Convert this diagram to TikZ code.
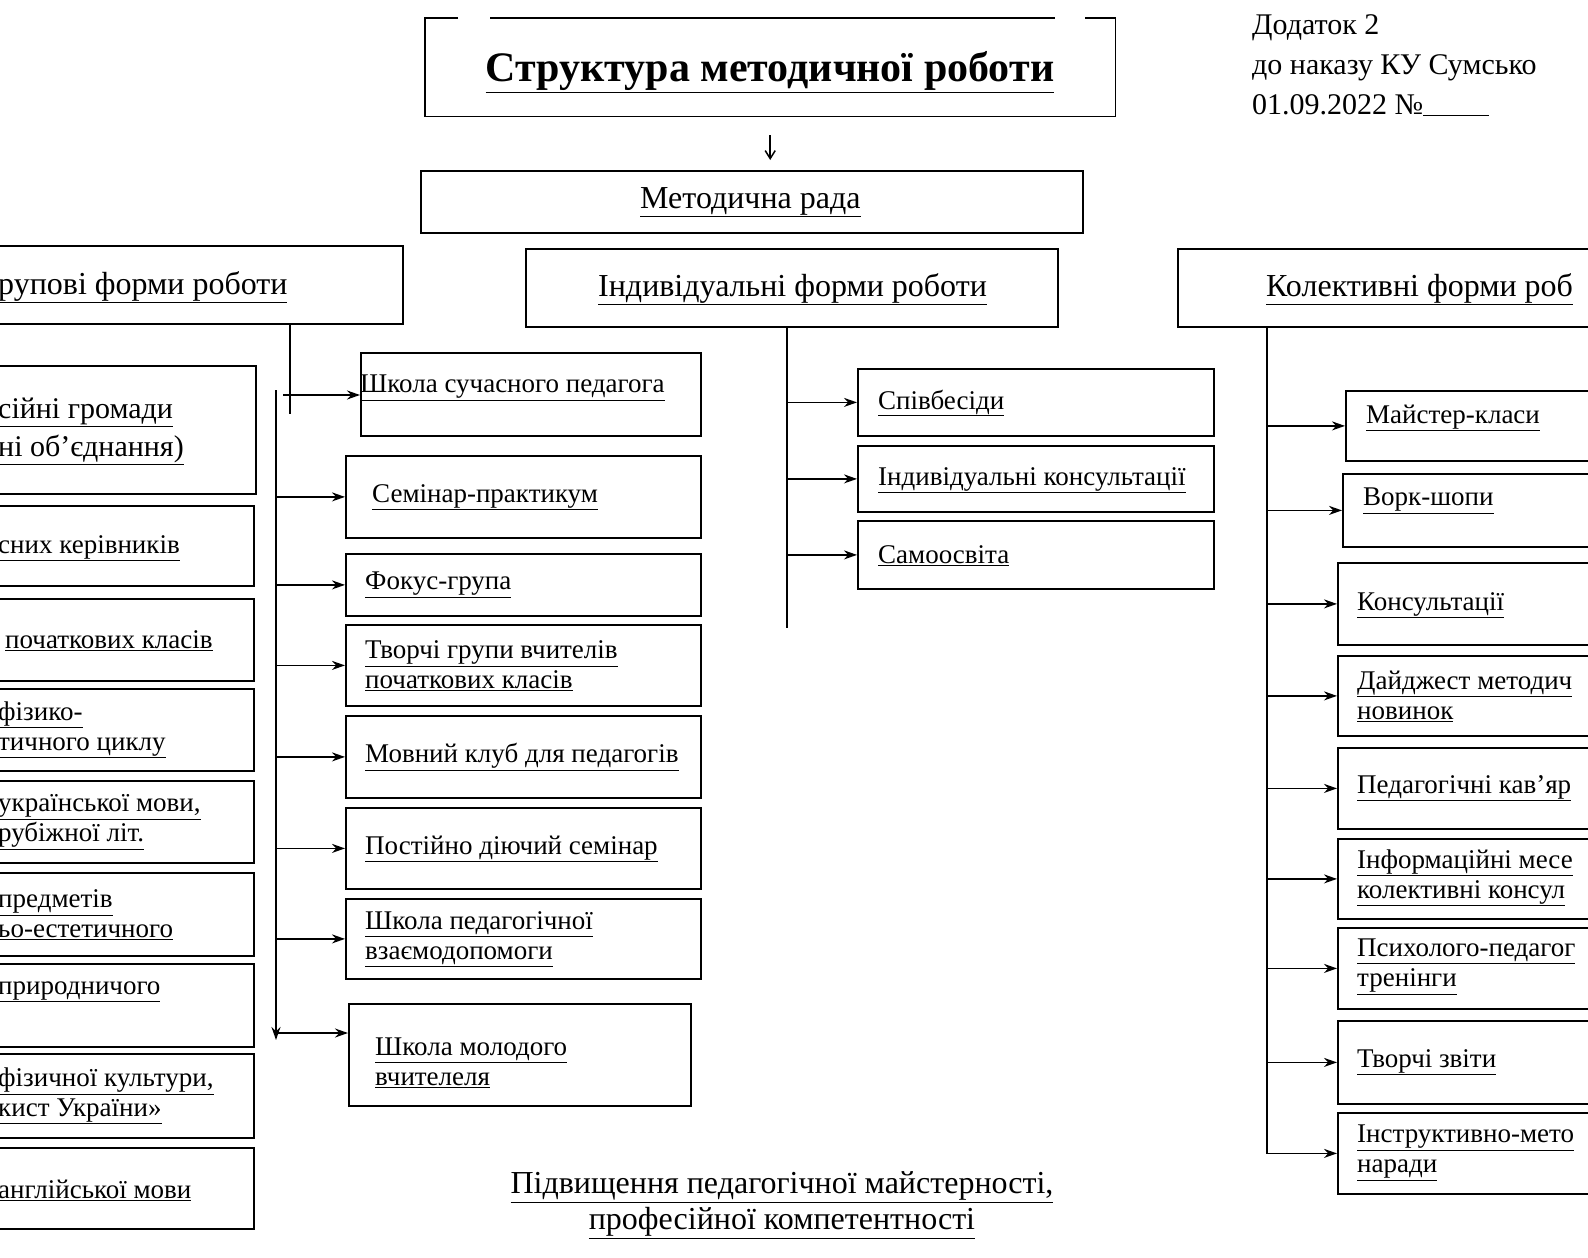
\documentclass[tikz,border=0pt]{standalone}
\usepackage{fontspec}
\setmainfont{Liberation Serif}
\usetikzlibrary{arrows.meta,positioning}

\begin{document}
\begin{tikzpicture}[x=1pt,y=-1pt,
    box/.style={draw,line width=1.8pt,anchor=north west,inner sep=0pt},
    txt/.style={anchor=west,align=left,inner sep=0pt,font=\fontsize{27}{30}\selectfont},
    big/.style={txt,font=\fontsize{32}{38}\selectfont},
    arr/.style={-{Stealth[length=13pt,width=9pt]},line width=1.8pt},
    trunk/.style={line width=1.8pt}]
  \clip (0,0) rectangle (1588,1258);
  \fill[white] (0,0) rectangle (1588,1258);

  % top
  \node[anchor=north west,minimum width=690,minimum height=98,inner sep=0pt] (title) at (425,18) {};
  \draw[trunk] ([xshift=33pt]title.north west) -- (title.north west) -- (title.south west)
    -- (title.south east) -- (title.north east) -- ([xshift=-30pt]title.north east);
  \draw[trunk] ([xshift=65pt]title.north west) -- ([xshift=-60pt]title.north east);
  \node[inner sep=0pt,font=\bfseries\fontsize{42}{50}\selectfont] (titletext) at (770,72) {\underline{Структура методичної роботи}};
  \node[txt,anchor=north west,font=\fontsize{30}{40}\selectfont] (dod) at (1252,14)
    {Додаток 2\\до наказу КУ Сумсько\\01.09.2022 №\underline{\hspace{66pt}}};

  \node[box,minimum width=662,minimum height=62] (rada) at (420,170) {};
  \node[big] (radatext) at (640,202) {\underline{Методична рада}};
  \draw[-{Straight Barb[length=8pt,width=10pt]},line width=1.5pt]
    ([yshift=-19pt]title.south) -- ([yshift=10pt]rada.north -| title.south);

  % three forms
  \node[box,minimum width=422,minimum height=78] (grp) at (-20,245) {};
  \node[big] (grptext) at (-2,287) {\underline{рупові форми роботи}};
  \node[box,minimum width=532,minimum height=78] (ind) at (525,248) {};
  \node[big] (indtext) at (598,289) {\underline{Індивідуальні форми роботи}};
  \node[box,minimum width=450,minimum height=78] (kol) at (1177,248) {};
  \node[big] (koltext) at (1266,289) {\underline{Колективні форми роб}};

  % left column
  \node[box,minimum width=275,minimum height=128] (l1) at (-20,365) {};
  \node[txt,font=\fontsize{30}{38}\selectfont] at (-2,431) {\underline{сійні громади}\\\underline{ні об’єднання)}};
  \node[box,minimum width=273,minimum height=80] (l2) at (-20,505) {};
  \node[txt] at (-2,548) {\underline{сних керівників}};
  \node[box,minimum width=273,minimum height=82] (l3) at (-20,598) {};
  \node[txt] at (5,641) {\underline{початкових класів}};
  \node[box,minimum width=273,minimum height=82] (l4) at (-20,688) {};
  \node[txt] at (-2,730) {\underline{фізико-}\\\underline{тичного циклу}};
  \node[box,minimum width=273,minimum height=82] (l5) at (-20,780) {};
  \node[txt] at (-2,822) {\underline{української мови,}\\\underline{рубіжної літ.}};
  \node[box,minimum width=273,minimum height=83] (l6) at (-20,872) {};
  \node[txt] at (-2,915) {\underline{предметів}\\\underline{ьо-естетичного}};
  \node[box,minimum width=273,minimum height=83] (l7) at (-20,963) {};
  \node[txt] at (-2,992) {\underline{природничого}};
  \node[box,minimum width=273,minimum height=84] (l8) at (-20,1053) {};
  \node[txt] at (-2,1096) {\underline{фізичної культури,}\\\underline{кист України»}};
  \node[box,minimum width=273,minimum height=81] (l9) at (-20,1147) {};
  \node[txt] at (-2,1190) {\underline{англійської мови}};

  % group forms
  \node[box,minimum width=340,minimum height=83] (shk) at (360,352) {};
  \node[txt] at (360,388) {\underline{Школа сучасного педагога}};
  \node[box,minimum width=355,minimum height=82] (sem) at (345,455) {};
  \node[txt] at (372,497) {\underline{Семінар-практикум}};
  \node[box,minimum width=355,minimum height=62] (fok) at (345,553) {};
  \node[txt] at (365,585) {\underline{Фокус-група}};
  \node[box,minimum width=355,minimum height=81] (tvo) at (345,624) {};
  \node[txt] at (365,666) {\underline{Творчі групи вчителів}\\\underline{початкових класів}};
  \node[box,minimum width=355,minimum height=82] (mov) at (345,715) {};
  \node[txt] at (365,757) {\underline{Мовний клуб для педагогів}};
  \node[box,minimum width=355,minimum height=81] (pos) at (345,807) {};
  \node[txt] at (365,849) {\underline{Постійно діючий семінар}};
  \node[box,minimum width=355,minimum height=80] (shp) at (345,898) {};
  \node[txt] at (365,939) {\underline{Школа педагогічної}\\\underline{взаємодопомоги}};
  \node[box,minimum width=342,minimum height=102] (mol) at (348,1003) {};
  \node[txt] at (375,1063) {\underline{Школа молодого}\\\underline{вчителеля}};

  \coordinate (gstub) at (290,414);
  \coordinate (gtop) at (276,390);
  \coordinate (gbot) at (276,1040);
  \coordinate (gfirst) at (283,395);
  \draw[trunk] (gstub |- grp.south) -- (gstub);
  \draw[arr] (gtop) -- (gbot);
  \draw[arr] (gfirst) -- (gfirst -| shk.west);
  \foreach \b in {sem,fok,tvo,mov,pos,shp}
    \draw[arr] (gtop |- \b.west) -- (\b.west);
  \draw[arr] (gtop |- 0,1033) -- (gtop |- 0,1033 -| mol.west);

  % individual forms
  \node[box,minimum width=356,minimum height=67] (spv) at (857,368) {};
  \node[txt] at (878,403) {\underline{Співбесіди}};
  \node[box,minimum width=356,minimum height=66] (kon) at (857,445) {};
  \node[txt] at (878,480) {\underline{Індивідуальні консультації}};
  \node[box,minimum width=356,minimum height=68] (sam) at (857,520) {};
  \node[txt] at (878,556) {\underline{Самоосвіта}};

  \coordinate (itop) at (787,326);
  \coordinate (ibot) at (787,628);
  \draw[trunk] (itop) -- (ibot);
  \foreach \b in {spv,kon,sam}
    \draw[arr] (itop |- \b.west) -- (\b.west);

  % collective forms
  \node[box,minimum width=300,minimum height=70] (mai) at (1345,390) {};
  \node[txt] at (1366,418) {\underline{Майстер-класи}};
  \node[box,minimum width=300,minimum height=73] (vor) at (1342,473) {};
  \node[txt] at (1363,501) {\underline{Ворк-шопи}};
  \node[box,minimum width=300,minimum height=82] (kns) at (1337,562) {};
  \node[txt] at (1357,605) {\underline{Консультації}};
  \node[box,minimum width=300,minimum height=80] (daj) at (1337,655) {};
  \node[txt] at (1357,696) {\underline{Дайджест методич}\\\underline{новинок}};
  \node[box,minimum width=300,minimum height=81] (kav) at (1337,747) {};
  \node[txt] at (1357,788) {\underline{Педагогічні кав’яр}};
  \node[box,minimum width=300,minimum height=80] (inf) at (1337,838) {};
  \node[txt] at (1357,878) {\underline{Інформаційні месе}\\\underline{колективні консул}};
  \node[box,minimum width=300,minimum height=81] (psy) at (1337,927) {};
  \node[txt] at (1357,967) {\underline{Психолого-педагог}\\\underline{тренінги}};
  \node[box,minimum width=300,minimum height=83] (zvi) at (1337,1020) {};
  \node[txt] at (1357,1062) {\underline{Творчі звіти}};
  \node[box,minimum width=300,minimum height=81] (nar) at (1337,1112) {};
  \node[txt] at (1357,1153) {\underline{Інструктивно-мето}\\\underline{наради}};

  \coordinate (ktop) at (1267,326);
  \draw[arr] (ktop) |- (nar.west);
  \foreach \b in {mai,vor,kns,daj,kav,inf,psy,zvi}
    \draw[arr] (ktop |- \b.west) -- (\b.west);

  % bottom
  \node[inner sep=0pt,align=center,font=\fontsize{32}{36}\selectfont] (goal) at (782,1205)
    {\underline{Підвищення педагогічної майстерності,}\\\underline{професійної компетентності}};
\end{tikzpicture}
\end{document}
